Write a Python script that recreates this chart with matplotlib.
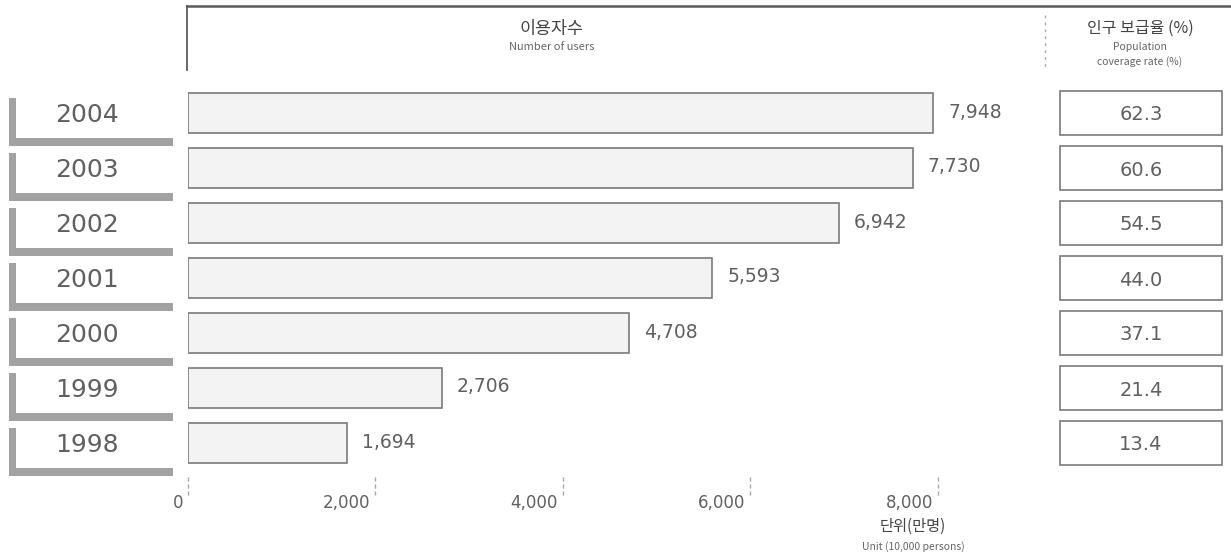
import matplotlib.pyplot as plt
from matplotlib.patches import Rectangle
from matplotlib.lines import Line2D

plt.rcParams['font.family'] = ['Noto Sans CJK KR', 'DejaVu Sans']
NUM_FONT = 'DejaVu Sans'

# mobile internet users (10,000 persons) and population coverage rate (%)
years = ['1998', '1999', '2000', '2001', '2002', '2003', '2004']
users = [1694, 2706, 4708, 5593, 6942, 7730, 7948]
rates = [13.4, 21.4, 37.1, 44.0, 54.5, 60.6, 62.3]
xticks = [0, 2000, 4000, 6000, 8000]
xtick_labels = ['0', '2,000', '4,000', '6,000', '8,000']

W, H = 1231, 555
TXT = '#606060'
EDGE = '#7a7a7a'
BRACKET = '#a2a2a2'

def fx(x):
    return x / W

def fy(y):
    return 1 - y / H

fig = plt.figure(figsize=(W / 100, H / 100), dpi=100)

# rows sit between y=85.5 and y=470.5 pixels
row_top, row_bot = 85.5, 470.5
row_h = (row_bot - row_top) / 7
ax = fig.add_axes([fx(188), fy(row_bot), (938 - 188) / W, (row_bot - row_top) / H])
axl = fig.add_axes([0, fy(row_bot), 188 / W, (row_bot - row_top) / H])
axr = fig.add_axes([fx(1040), fy(row_bot), (W - 1040) / W, (row_bot - row_top) / H])

ypos = list(range(len(years)))
for a in (ax, axl, axr):
    a.set_ylim(-0.5, len(years) - 0.5)
    a.axis('off')
ax.set_xlim(0, 8000)
axl.set_xlim(0, 188)
axr.set_xlim(1040, W)

# main bars
ax.barh(ypos, users, height=40 / row_h, color='#f3f3f3', edgecolor=EDGE, linewidth=1.2)
for y, v in zip(ypos, users):
    ax.annotate(f'{v:,}', xy=(v, y), xytext=(15, 1), textcoords='offset pixels',
                ha='left', va='center', fontsize=13.5, color=TXT, family=NUM_FONT)

# year labels with an L-shaped bracket
u = 1 / row_h
for y, yr in zip(ypos, years):
    axl.add_patch(Rectangle((9, y - 33 * u), 7, 48 * u, color=BRACKET, lw=0, clip_on=False))
    axl.add_patch(Rectangle((9, y - 33 * u), 164, 8 * u, color=BRACKET, lw=0, clip_on=False))
    axl.text(87, y - 2 * u, yr, ha='center', va='center', fontsize=18, color=TXT,
             family=NUM_FONT)

# coverage rate boxes
for y, r in zip(ypos, rates):
    axr.add_patch(Rectangle((1060, y - 22 * u), 162, 44 * u, facecolor='white',
                            edgecolor=EDGE, lw=1.2, clip_on=False))
    axr.text(1141, y - 2 * u, f'{r:.1f}', ha='center', va='center', fontsize=14,
             color=TXT, family=NUM_FONT)

# x axis: short dashed ticks below the rows, labels to their left
xt = ax.get_xaxis_transform()
t0 = -(477 - row_bot) / (row_bot - row_top)
t1 = -(497 - row_bot) / (row_bot - row_top)
tl = -(503 - row_bot) / (row_bot - row_top)
for t, lab in zip(xticks, xtick_labels):
    ax.plot([t, t], [t0, t1], transform=xt, clip_on=False, color='#aaaaaa',
            lw=1, ls=(0, (3, 2)))
    ax.annotate(lab, xy=(t, tl), xycoords=xt, xytext=(-5, 0), textcoords='offset pixels',
                ha='right', va='center', fontsize=12, color=TXT, family=NUM_FONT)

fig.text(fx(913), fy(526), '단위(만명)', ha='center', va='center', fontsize=11, color='#444444')
fig.text(fx(913), fy(547), 'Unit (10,000 persons)', ha='center', va='center', fontsize=7.5,
         color='#666666')

# header frame
fig.add_artist(Line2D([fx(187), 1], [fy(6), fy(6)], color='#5a5a5a', lw=1.8))
fig.add_artist(Line2D([fx(187), fx(187)], [fy(6), fy(70)], color='#5a5a5a', lw=1.3))
fig.add_artist(Line2D([fx(1045), fx(1045)], [fy(15), fy(70)], color='#aaaaaa', lw=1,
                      ls=(0, (2, 3))))

fig.text(fx(552), fy(29), '이용자수', ha='center', va='center', fontsize=12.5, color='#444444')
fig.text(fx(552), fy(47), 'Number of users', ha='center', va='center', fontsize=8,
         color='#666666')
fig.text(fx(1140), fy(28), '인구 보급율 (%)', ha='center', va='center', fontsize=11.5,
         color='#444444')
fig.text(fx(1140), fy(47), 'Population', ha='center', va='center', fontsize=7.5,
         color='#666666')
fig.text(fx(1140), fy(62), 'coverage rate (%)', ha='center', va='center', fontsize=7.5,
         color='#666666')

fig.savefig('out.png', dpi=100)
